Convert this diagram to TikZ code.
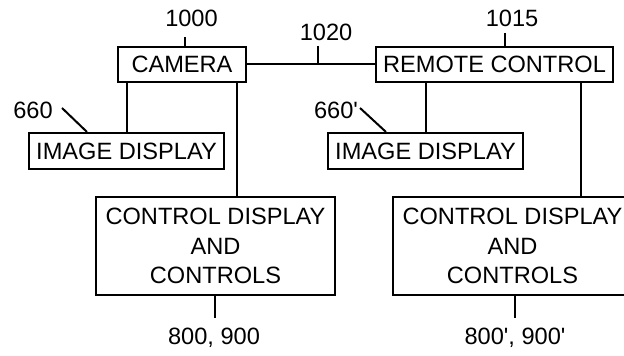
\documentclass[tikz,border=0pt]{standalone}
\usepackage{fontspec}
\setmainfont{Liberation Sans}
\usetikzlibrary{positioning, calc}

\begin{document}
\begin{tikzpicture}[
    x=0.5pt, y=-0.5pt,
    box/.style={rectangle, draw=black, line width=1pt, inner sep=0pt, align=center,
                font=\fontsize{11.8}{14.75}\selectfont},
    refnum/.style={inner sep=0pt, font=\fontsize{11.8}{13}\selectfont},
    wire/.style={line width=1pt}
]
    \useasboundingbox[fill=white] (0,0) rectangle (624,356);

    % blocks
    \node[box, minimum width=64pt, minimum height=17.5pt] (camera) at (182,64.5) {CAMERA};
    \node[box, minimum width=118.5pt, minimum height=17.5pt] (remote) at (494.5,64.5) {REMOTE CONTROL};
    \node[box, minimum width=97.5pt, minimum height=18pt] (imgcam) at (126.5,151) {IMAGE DISPLAY};
    \node[box, minimum width=97.5pt, minimum height=18pt] (imgrem) at (425.5,151) {IMAGE DISPLAY};
    \node[box, minimum width=119.5pt, minimum height=49pt] (ctlcam) at (215.5,246) {CONTROL DISPLAY\\AND\\CONTROLS};
    \node[box, minimum width=119.5pt, minimum height=49pt] (ctlrem) at (512.5,246) {CONTROL DISPLAY\\AND\\CONTROLS};

    % reference numerals
    \node[refnum] (n1000) at (191.5,18.5) {1000};
    \node[refnum] (n1020) at (326,32) {1020};
    \node[refnum] (n1015) at (512,18) {1015};
    \node[refnum] (n660) at (33,110) {660};
    \node[refnum] (n660b) at (336,110) {660\textquotesingle};
    \node[refnum] (n800) at (214,338) {800, 900};
    \node[refnum] (n800b) at (515,338) {800\textquotesingle, 900\textquotesingle};

    \coordinate (k1000) at (185,37);
    \coordinate (k1020) at (318,46);
    \coordinate (k1015) at (505,33);
    \coordinate (k660) at (62,108);
    \coordinate (k660b) at (360,108);
    \coordinate (k800) at (215,318);
    \coordinate (k800b) at (515,318);
    \coordinate (xcam) at (237,0);
    \coordinate (xrem) at (581,0);

    % connections
    \draw[wire] (camera.east) -- (remote.west);
    \draw[wire] (imgcam.north) -- (imgcam.north |- camera.south);
    \draw[wire] (xcam |- camera.south) -- (xcam |- ctlcam.north);
    \draw[wire] (imgrem.north) -- (imgrem.north |- remote.south);
    \draw[wire] (xrem |- remote.south) -- (xrem |- ctlrem.north);

    % leaders
    \draw[wire] (k1000) -- (k1000 |- camera.north);
    \draw[wire] (k1020) -- (k1020 |- camera.east);
    \draw[wire] (k1015) -- (k1015 |- remote.north);
    \draw[wire] (k660) -- ($(imgcam.north west)+(59,0)$);
    \draw[wire] (k660b) -- ($(imgrem.north west)+(59,0)$);
    \draw[wire] (k800 |- ctlcam.south) -- (k800);
    \draw[wire] (k800b |- ctlrem.south) -- (k800b);
\end{tikzpicture}
\end{document}
